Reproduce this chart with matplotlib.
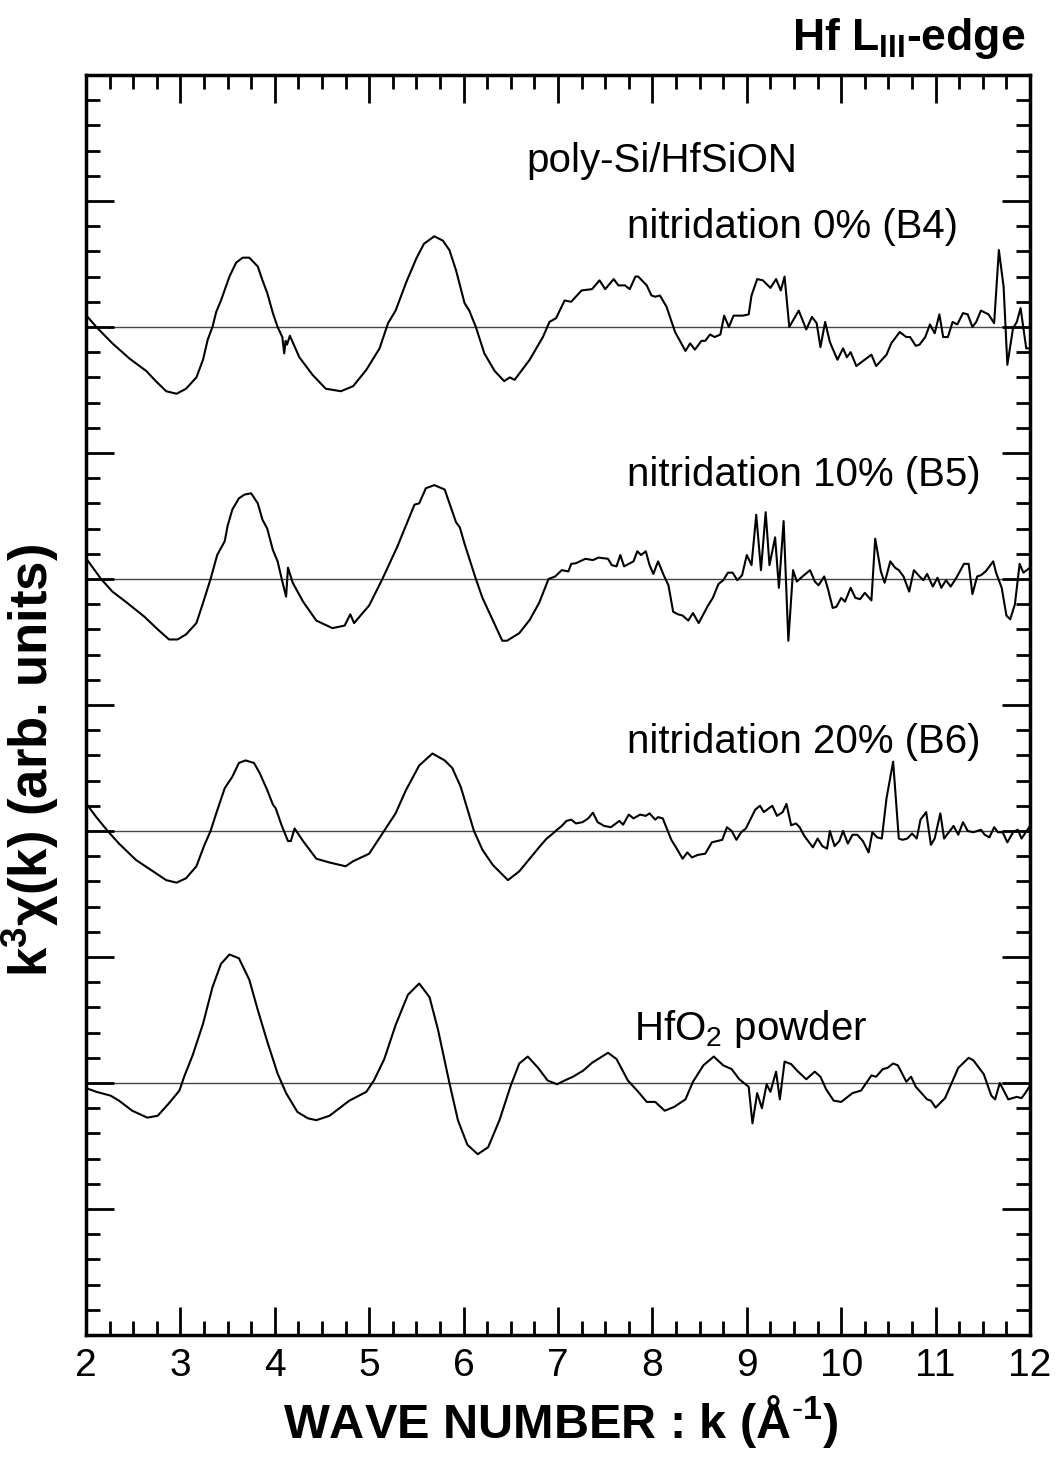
import matplotlib
matplotlib.use("Agg")
import matplotlib.pyplot as plt
from matplotlib.ticker import MultipleLocator

plt.rcParams["font.family"] = ["Liberation Sans", "DejaVu Sans"]
plt.rcParams["mathtext.fontset"] = "custom"
plt.rcParams["mathtext.rm"] = "Liberation Sans"
plt.rcParams["mathtext.bf"] = "Liberation Sans:bold"

# vertical offsets of each spectrum (arb. units, one major tick = 1)
offsets = [8, 6, 4, 2]
labels = ["nitridation 0% (B4)", "nitridation 10% (B5)", "nitridation 20% (B6)", r"HfO$_2$ powder"]
label_k = [7.73, 7.73, 7.73, 7.80]
label_y = [8.71, 6.74, 4.62, 2.34]

# k^3 chi(k), relative to each baseline
b4_k = [2.00, 2.11, 2.28, 2.46, 2.64, 2.74, 2.85, 2.96, 3.06, 3.17,
        3.24, 3.29, 3.34, 3.38, 3.43, 3.52, 3.59, 3.66, 3.73, 3.82,
        3.87, 3.92, 3.98, 4.03, 4.08, 4.10, 4.115, 4.13, 4.16, 4.26,
        4.40, 4.54, 4.70, 4.83, 4.97, 5.11, 5.20, 5.28, 5.39, 5.50,
        5.58, 5.69, 5.78, 5.85, 5.92, 6.01, 6.06, 6.13, 6.22, 6.33,
        6.43, 6.49, 6.54, 6.70, 6.84, 6.91, 6.98, 7.07, 7.14, 7.25,
        7.36, 7.44, 7.50, 7.59, 7.64, 7.71, 7.76, 7.82, 7.85, 7.94,
        7.99, 8.03, 8.08, 8.15, 8.24, 8.35, 8.40, 8.45, 8.52, 8.56,
        8.61, 8.66, 8.72, 8.76, 8.81, 8.86, 8.96, 9.02, 9.05, 9.11,
        9.17, 9.25, 9.31, 9.36, 9.40, 9.45, 9.55, 9.63, 9.69, 9.74,
        9.78, 9.83, 9.88, 9.96, 10.02, 10.06, 10.10, 10.16, 10.32, 10.37,
        10.48, 10.53, 10.62, 10.69, 10.73, 10.79, 10.83, 10.89, 10.94, 10.99,
        11.04, 11.08, 11.13, 11.18, 11.23, 11.29, 11.34, 11.39, 11.43, 11.48,
        11.56, 11.62, 11.67, 11.72, 11.76, 11.82, 11.86, 11.90, 11.96, 12.00]
b4_chi = [0.095, 0.0, -0.13, -0.25, -0.35, -0.43, -0.51, -0.53, -0.49, -0.40,
          -0.26, -0.10, 0.0, 0.12, 0.21, 0.40, 0.51, 0.55, 0.55, 0.48,
          0.37, 0.27, 0.11, 0.0, -0.08, -0.21, -0.11, -0.14, -0.07, -0.24,
          -0.38, -0.49, -0.51, -0.47, -0.34, -0.17, 0.03, 0.13, 0.35, 0.545,
          0.66, 0.72, 0.685, 0.61, 0.45, 0.19, 0.13, 0.0, -0.21, -0.35,
          -0.43, -0.40, -0.42, -0.26, -0.08, 0.04, 0.07, 0.21, 0.20, 0.29,
          0.30, 0.37, 0.30, 0.38, 0.33, 0.33, 0.30, 0.40, 0.40, 0.33,
          0.25, 0.24, 0.25, 0.16, -0.04, -0.19, -0.13, -0.18, -0.11, -0.11,
          -0.06, -0.08, -0.06, 0.09, 0.0, 0.09, 0.09, 0.10, 0.25, 0.38,
          0.37, 0.31, 0.38, 0.29, 0.40, 0.0, 0.13, -0.02, 0.08, 0.03,
          -0.16, 0.04, -0.12, -0.26, -0.17, -0.24, -0.20, -0.31, -0.22, -0.31,
          -0.22, -0.13, -0.04, -0.08, -0.08, -0.15, -0.14, -0.08, 0.02, -0.05,
          0.10, -0.08, -0.08, 0.04, 0.02, 0.11, 0.10, 0.0, 0.04, 0.13,
          0.10, 0.03, 0.61, 0.32, -0.30, -0.01, 0.04, 0.15, -0.17, -0.17]

b5_k = [2.00, 2.16, 2.28, 2.42, 2.62, 2.76, 2.88, 2.97, 3.06, 3.17,
        3.24, 3.32, 3.39, 3.47, 3.50, 3.55, 3.62, 3.68, 3.75, 3.82,
        3.87, 3.92, 3.98, 4.03, 4.08, 4.12, 4.14, 4.19, 4.30, 4.44,
        4.61, 4.74, 4.80, 4.84, 5.00, 5.14, 5.30, 5.48, 5.53, 5.60,
        5.69, 5.80, 5.92, 5.96, 6.01, 6.13, 6.20, 6.41, 6.46, 6.59,
        6.70, 6.80, 6.90, 6.97, 7.04, 7.11, 7.14, 7.19, 7.29, 7.37,
        7.43, 7.53, 7.57, 7.62, 7.66, 7.70, 7.80, 7.84, 7.88, 7.93,
        7.97, 8.01, 8.06, 8.12, 8.17, 8.22, 8.27, 8.32, 8.38, 8.43,
        8.49, 8.59, 8.64, 8.70, 8.75, 8.80, 8.85, 8.90, 8.95, 9.00,
        9.05, 9.10, 9.15, 9.20, 9.24, 9.30, 9.34, 9.39, 9.44, 9.49,
        9.53, 9.59, 9.67, 9.72, 9.76, 9.82, 9.86, 9.91, 9.95, 10.00,
        10.04, 10.10, 10.15, 10.20, 10.25, 10.32, 10.36, 10.42, 10.46, 10.52,
        10.57, 10.61, 10.66, 10.72, 10.77, 10.83, 10.87, 10.91, 10.97, 11.02,
        11.06, 11.11, 11.16, 11.22, 11.30, 11.35, 11.39, 11.44, 11.48, 11.53,
        11.61, 11.64, 11.70, 11.75, 11.79, 11.84, 11.89, 11.93, 12.00]
b5_chi = [0.165, 0.0, -0.10, -0.18, -0.30, -0.40, -0.48, -0.48, -0.44, -0.35,
          -0.19, 0.0, 0.19, 0.30, 0.42, 0.55, 0.64, 0.67, 0.68, 0.60,
          0.47, 0.40, 0.23, 0.14, -0.02, -0.14, 0.09, -0.03, -0.18, -0.33,
          -0.39, -0.37, -0.28, -0.35, -0.21, 0.0, 0.26, 0.59, 0.60, 0.72,
          0.745, 0.71, 0.45, 0.41, 0.28, 0.0, -0.15, -0.49, -0.49, -0.43,
          -0.325, -0.19, 0.0, 0.02, 0.07, 0.06, 0.12, 0.125, 0.16, 0.15,
          0.17, 0.16, 0.11, 0.10, 0.19, 0.10, 0.14, 0.22, 0.19, 0.22,
          0.11, 0.04, 0.14, 0.03, -0.05, -0.26, -0.28, -0.29, -0.33, -0.27,
          -0.35, -0.21, -0.15, -0.04, -0.01, 0.05, 0.05, -0.01, 0.03, 0.19,
          0.11, 0.51, 0.07, 0.53, 0.11, 0.33, -0.07, 0.46, -0.49, 0.07,
          -0.02, 0.02, 0.07, -0.02, -0.05, 0.02, -0.08, -0.23, -0.22, -0.15,
          -0.18, -0.07, -0.15, -0.16, -0.11, -0.17, 0.32, 0.06, -0.03, 0.14,
          0.09, 0.07, 0.02, -0.10, 0.07, 0.02, -0.01, 0.04, -0.06, 0.01,
          -0.07, -0.01, -0.06, 0.01, 0.12, 0.12, -0.12, 0.02, 0.03, 0.06,
          0.14, 0.05, -0.07, -0.29, -0.32, -0.20, 0.12, 0.05, 0.09]

b6_k = [2.00, 2.11, 2.23, 2.35, 2.53, 2.71, 2.85, 2.96, 3.06, 3.17,
        3.25, 3.32, 3.38, 3.47, 3.55, 3.62, 3.69, 3.78, 3.84, 3.92,
        3.98, 4.01, 4.07, 4.14, 4.17, 4.21, 4.30, 4.44, 4.58, 4.75,
        4.83, 5.00, 5.14, 5.28, 5.39, 5.53, 5.67, 5.80, 5.88, 5.97,
        6.11, 6.20, 6.31, 6.47, 6.59, 6.70, 6.81, 6.88, 6.93, 6.99,
        7.04, 7.09, 7.14, 7.19, 7.26, 7.32, 7.37, 7.42, 7.49, 7.56,
        7.65, 7.69, 7.75, 7.80, 7.87, 7.93, 7.97, 8.03, 8.06, 8.11,
        8.20, 8.25, 8.32, 8.37, 8.42, 8.48, 8.56, 8.63, 8.74, 8.79,
        8.84, 8.89, 8.94, 8.99, 9.09, 9.14, 9.18, 9.27, 9.32, 9.38,
        9.42, 9.47, 9.52, 9.56, 9.61, 9.66, 9.70, 9.75, 9.80, 9.85,
        9.88, 9.93, 9.98, 10.02, 10.07, 10.12, 10.17, 10.23, 10.29, 10.33,
        10.38, 10.43, 10.48, 10.55, 10.61, 10.65, 10.70, 10.75, 10.80, 10.84,
        10.90, 10.95, 10.99, 11.05, 11.09, 11.14, 11.19, 11.24, 11.29, 11.34,
        11.40, 11.48, 11.52, 11.57, 11.62, 11.66, 11.71, 11.76, 11.82, 11.87,
        11.91, 12.00]
b6_chi = [0.22, 0.11, 0.0, -0.10, -0.23, -0.32, -0.39, -0.41, -0.375, -0.28,
          -0.12, 0.0, 0.14, 0.34, 0.43, 0.54, 0.56, 0.54, 0.46, 0.325,
          0.21, 0.18, 0.05, -0.08, -0.08, 0.02, -0.08, -0.22, -0.25, -0.28,
          -0.24, -0.18, -0.02, 0.14, 0.325, 0.52, 0.615, 0.56, 0.50, 0.35,
          0.0, -0.15, -0.27, -0.39, -0.32, -0.22, -0.12, -0.06, -0.03, 0.01,
          0.04, 0.08, 0.09, 0.06, 0.07, 0.10, 0.145, 0.07, 0.04, 0.03,
          0.08, 0.05, 0.13, 0.10, 0.13, 0.12, 0.14, 0.09, 0.11, 0.10,
          -0.07, -0.13, -0.22, -0.17, -0.21, -0.19, -0.18, -0.09, -0.07, 0.03,
          0.0, -0.07, -0.01, 0.02, 0.17, 0.20, 0.15, 0.20, 0.12, 0.15,
          0.215, 0.045, 0.06, 0.03, -0.04, -0.09, -0.13, -0.06, -0.12, -0.14,
          0.0, -0.12, -0.08, 0.0, -0.10, -0.03, -0.03, -0.08, -0.17, -0.01,
          -0.05, -0.06, 0.26, 0.55, -0.06, -0.07, -0.06, -0.02, -0.06, 0.09,
          0.15, -0.11, -0.06, 0.14, -0.06, -0.01, 0.04, -0.03, 0.07, 0.0,
          -0.01, 0.01, -0.03, -0.05, 0.03, -0.01, -0.01, -0.09, -0.01, 0.01,
          -0.06, 0.04]

hfo2_k = [2.00, 2.11, 2.26, 2.35, 2.49, 2.65, 2.76, 2.88, 2.99, 3.04,
          3.13, 3.24, 3.34, 3.43, 3.52, 3.62, 3.73, 3.82, 3.92, 4.03,
          4.12, 4.24, 4.35, 4.44, 4.58, 4.79, 4.97, 5.05, 5.16, 5.28,
          5.41, 5.53, 5.64, 5.73, 5.85, 5.94, 6.04, 6.15, 6.26, 6.38,
          6.50, 6.59, 6.68, 6.79, 6.89, 6.99, 7.07, 7.16, 7.27, 7.36,
          7.53, 7.62, 7.74, 7.85, 7.94, 8.03, 8.13, 8.23, 8.35, 8.43,
          8.54, 8.65, 8.75, 8.84, 8.92, 9.02, 9.06, 9.11, 9.16, 9.21,
          9.25, 9.31, 9.35, 9.40, 9.47, 9.53, 9.63, 9.72, 9.78, 9.84,
          9.92, 10.00, 10.12, 10.21, 10.32, 10.37, 10.44, 10.49, 10.55, 10.60,
          10.69, 10.74, 10.79, 10.91, 10.95, 11.00, 11.10, 11.24, 11.35, 11.40,
          11.51, 11.59, 11.63, 11.68, 11.77, 11.86, 11.91, 11.95, 12.00]
hfo2_chi = [-0.04, -0.07, -0.10, -0.14, -0.22, -0.275, -0.26, -0.16, -0.06, 0.05,
            0.22, 0.47, 0.76, 0.945, 1.02, 0.99, 0.82, 0.58, 0.33, 0.075,
            -0.08, -0.23, -0.28, -0.295, -0.26, -0.14, -0.07, 0.02, 0.19, 0.46,
            0.70, 0.79, 0.68, 0.42, 0.0, -0.295, -0.49, -0.565, -0.51, -0.295,
            -0.02, 0.155, 0.21, 0.12, 0.02, -0.01, 0.02, 0.05, 0.10, 0.16,
            0.24, 0.19, 0.02, -0.07, -0.15, -0.15, -0.22, -0.19, -0.13, 0.01,
            0.14, 0.21, 0.14, 0.11, 0.03, -0.03, -0.32, -0.08, -0.20, -0.01,
            -0.07, 0.09, -0.13, 0.17, 0.15, 0.10, 0.03, 0.09, 0.05, -0.05,
            -0.14, -0.15, -0.08, -0.06, 0.06, 0.05, 0.11, 0.12, 0.155, 0.14,
            0.01, 0.05, -0.03, -0.13, -0.14, -0.195, -0.12, 0.12, 0.20, 0.18,
            0.07, -0.10, -0.13, 0.0, -0.13, -0.11, -0.12, -0.08, -0.02]

spectra = [(b4_k, b4_chi), (b5_k, b5_chi), (b6_k, b6_chi), (hfo2_k, hfo2_chi)]

fig = plt.figure(figsize=(10.56, 14.64), dpi=100)
ax = fig.add_axes([0.0814, 0.0881, 0.894, 0.8607])

for off, (k, chi) in zip(offsets, spectra):
    ax.axhline(off, color="#444444", lw=1.0, zorder=1)
    ax.plot(k, [off + c for c in chi], color="black", lw=1.5, zorder=2)

for text, tx, ty in zip(labels, label_k, label_y):
    ax.text(tx, ty, text, fontsize=29, ha="left", va="baseline")
ax.text(6.67, 9.23, "poly-Si/HfSiON", fontsize=29, ha="left", va="baseline")

ax.set_xlim(2, 12)
ax.set_ylim(0, 10)
ax.xaxis.set_major_locator(MultipleLocator(1))
ax.xaxis.set_minor_locator(MultipleLocator(0.25))
ax.yaxis.set_major_locator(MultipleLocator(1))
ax.yaxis.set_minor_locator(MultipleLocator(0.2))
ax.tick_params(which="both", direction="in", top=True, right=True,
               labelleft=False, width=2)
ax.tick_params(which="major", length=20, labelsize=28, pad=9)
ax.tick_params(which="minor", length=10)
for sp in ax.spines.values():
    sp.set_linewidth(2.5)

ax.set_xlabel(r"WAVE NUMBER : k (Å$^{\text{-}\mathbf{1}}$)", fontsize=35, fontweight="bold")
ax.xaxis.set_label_coords(0.503, -0.046)
ax.xaxis.label.set_va("top")
ax.set_ylabel(r"k$^{\mathbf{3}}$χ(k) (arb. units)", fontsize=38, fontweight="bold")
ax.yaxis.set_label_coords(-0.026, 0.456)

fig.text(0.971, 0.966, r"Hf L$_{\mathbf{III}}$-edge", fontsize=32,
         fontweight="bold", ha="right", va="baseline")

fig.savefig("out.png", dpi=100)
